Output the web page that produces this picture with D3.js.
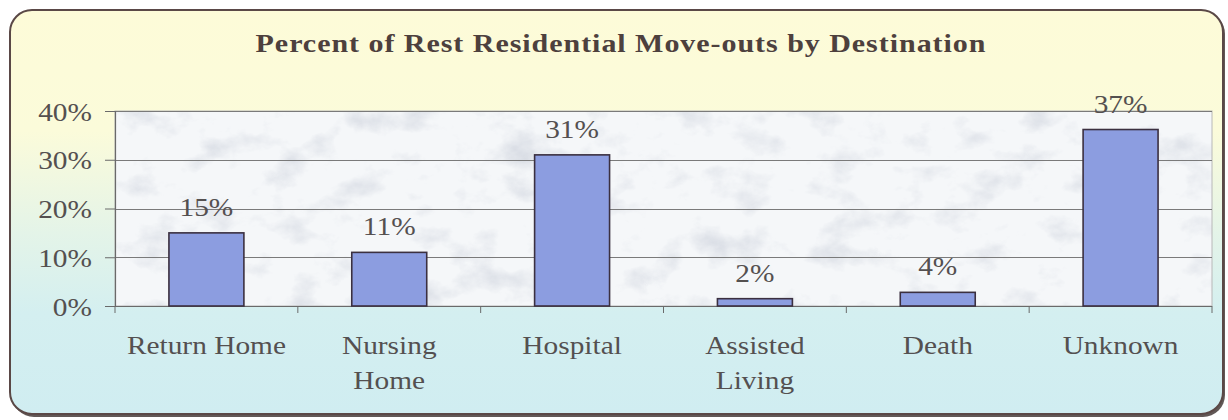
<!DOCTYPE html>
<html>
<head>
<meta charset="utf-8">
<script src="https://cdn.jsdelivr.net/npm/d3@7"></script>
<style>
  html, body { margin: 0; padding: 0; background: #ffffff; }
  svg { display: block; }
</style>
</head>
<body>
<div id="chart"></div>
<script>
// ---- data ----
const title = "Percent of Rest Residential Move-outs by Destination";
const categories = [["Return Home"], ["Nursing", "Home"], ["Hospital"], ["Assisted", "Living"], ["Death"], ["Unknown"]];
const values = [15, 11, 31, 1.5, 2.8, 36.2];           // drawn bar heights (%)
const valueLabels = ["15%", "11%", "31%", "2%", "4%", "37%"];
const yTicks = [0, 10, 20, 30, 40];
const yTickLabels = ["0%", "10%", "20%", "30%", "40%"];

const W = 1228, H = 420;
const margin = { left: 115, right: 16, top: 111, bottom: 114 };
const sx = 1.13; // horizontal stretch of text in the reference
const FS = 26;
const FONT = "'Liberation Serif', 'Times New Roman', serif";

const svg = d3.select("#chart").append("svg").attr("width", W).attr("height", H);
const defs = svg.append("defs");

const grad = defs.append("linearGradient").attr("id", "bg").attr("x1", 0).attr("y1", 0).attr("x2", 0).attr("y2", 1);
[[0, "#fdfbd8"], [0.3, "#fbfbda"], [0.55, "#e4f4e8"], [0.75, "#d4eff0"], [1, "#d0edf1"]].forEach(([o, c]) =>
  grad.append("stop").attr("offset", o).attr("stop-color", c));

const filt = defs.append("filter").attr("id", "marble").attr("x", 0).attr("y", 0).attr("width", 1).attr("height", 1);
filt.append("feTurbulence").attr("type", "fractalNoise").attr("baseFrequency", "0.022 0.03")
  .attr("numOctaves", 5).attr("seed", 11).attr("result", "n");
filt.append("feColorMatrix").attr("in", "n").attr("type", "matrix")
  .attr("values", "0 0 0 0 0.68  0 0 0 0 0.71  0 0 0 0 0.77  2.2 0 0 0 -1.12").attr("result", "c");
filt.append("feComposite").attr("in", "c").attr("in2", "SourceGraphic").attr("operator", "in");

// frame
svg.append("rect").attr("x", 12).attr("y", 12).attr("width", 1213).attr("height", 405).attr("rx", 22)
  .attr("fill", "#3a2e2c").attr("opacity", 0.8);
svg.append("rect").attr("x", 10).attr("y", 10).attr("width", 1213).attr("height", 404).attr("rx", 22)
  .attr("fill", "url(#bg)").attr("stroke", "#5a4846").attr("stroke-width", 2);

const x0 = margin.left, x1 = W - margin.right, yTop = margin.top, yBot = H - margin.bottom;

const x = d3.scaleBand().domain(d3.range(categories.length)).range([x0, x1]).paddingInner(0.59).paddingOuter(0.295);
const y = d3.scaleLinear().domain([0, 40]).range([yBot, yTop]);

// plot background (marble)
svg.append("rect").attr("x", x0).attr("y", yTop).attr("width", x1 - x0).attr("height", yBot - yTop).attr("fill", "#f5f7f9");
svg.append("rect").attr("x", x0).attr("y", yTop).attr("width", x1 - x0).attr("height", yBot - yTop)
  .attr("fill", "#ffffff").attr("filter", "url(#marble)");
svg.append("rect").attr("x", x0).attr("y", yTop).attr("width", x1 - x0).attr("height", yBot - yTop)
  .attr("fill", "none").attr("stroke", "#b8b8b8").attr("stroke-width", 1);

// gridlines
svg.append("g").selectAll("line").data(yTicks.filter(d => d > 0)).join("line")
  .attr("x1", x0).attr("x2", x1).attr("y1", d => Math.round(y(d)) + 0.5).attr("y2", d => Math.round(y(d)) + 0.5)
  .attr("stroke", "#7a7a7a").attr("stroke-width", 1);

// y axis
const yAxis = svg.append("g").attr("transform", `translate(${x0},0)`)
  .call(d3.axisLeft(y).tickValues(yTicks).tickSize(10).tickFormat((d, i) => yTickLabels[i]));
yAxis.select(".domain").attr("stroke", "#6a6a6a").attr("stroke-width", 1.2);
yAxis.selectAll(".tick line").attr("stroke", "#6a6a6a");
yAxis.selectAll(".tick text").attr("x", 0).attr("dy", 0)
  .attr("transform", `translate(-23,9) scale(${sx},1)`)
  .attr("font-family", FONT).attr("font-size", FS).attr("fill", "#545050");

// x axis
const xg = svg.append("g");
xg.append("line").attr("x1", x0 - 10).attr("x2", x1).attr("y1", yBot + 0.5).attr("y2", yBot + 0.5)
  .attr("stroke", "#6a6a6a").attr("stroke-width", 1.2);
const step = x.step();
xg.selectAll("line.t").data(d3.range(categories.length + 1)).join("line").attr("class", "t")
  .attr("x1", i => x0 + i * step).attr("x2", i => x0 + i * step).attr("y1", yBot).attr("y2", yBot + 7)
  .attr("stroke", "#6a6a6a");

// bars
svg.append("g").selectAll("rect").data(values).join("rect")
  .attr("x", (d, i) => x(i)).attr("width", x.bandwidth())
  .attr("y", d => y(d)).attr("height", d => yBot - y(d))
  .attr("fill", "#8c9de0").attr("stroke", "#3b3040").attr("stroke-width", 1.6);

// value labels
svg.append("g").selectAll("text").data(values).join("text")
  .attr("transform", (d, i) => `translate(${x(i) + x.bandwidth() / 2},${y(d) - 17}) scale(${sx},1)`)
  .attr("text-anchor", "middle").attr("font-family", FONT)
  .attr("font-size", FS).attr("fill", "#545050").text((d, i) => valueLabels[i]);

// category labels
const cg = svg.append("g").selectAll("g").data(categories).join("g")
  .attr("transform", (d, i) => `translate(${x(i) + x.bandwidth() / 2},354) scale(${sx},1)`);
cg.selectAll("text").data(d => d).join("text")
  .attr("y", (d, j) => j * 35).attr("text-anchor", "middle")
  .attr("font-family", FONT).attr("font-size", FS).attr("fill", "#545050")
  .text(d => d);

// title
svg.append("text").attr("transform", `translate(621,52) scale(1.2,1)`).attr("text-anchor", "middle")
  .attr("font-family", FONT).attr("font-weight", "bold").attr("letter-spacing", 0.8)
  .attr("font-size", 25).attr("fill", "#4d403d").text(title);
</script>
</body>
</html>
